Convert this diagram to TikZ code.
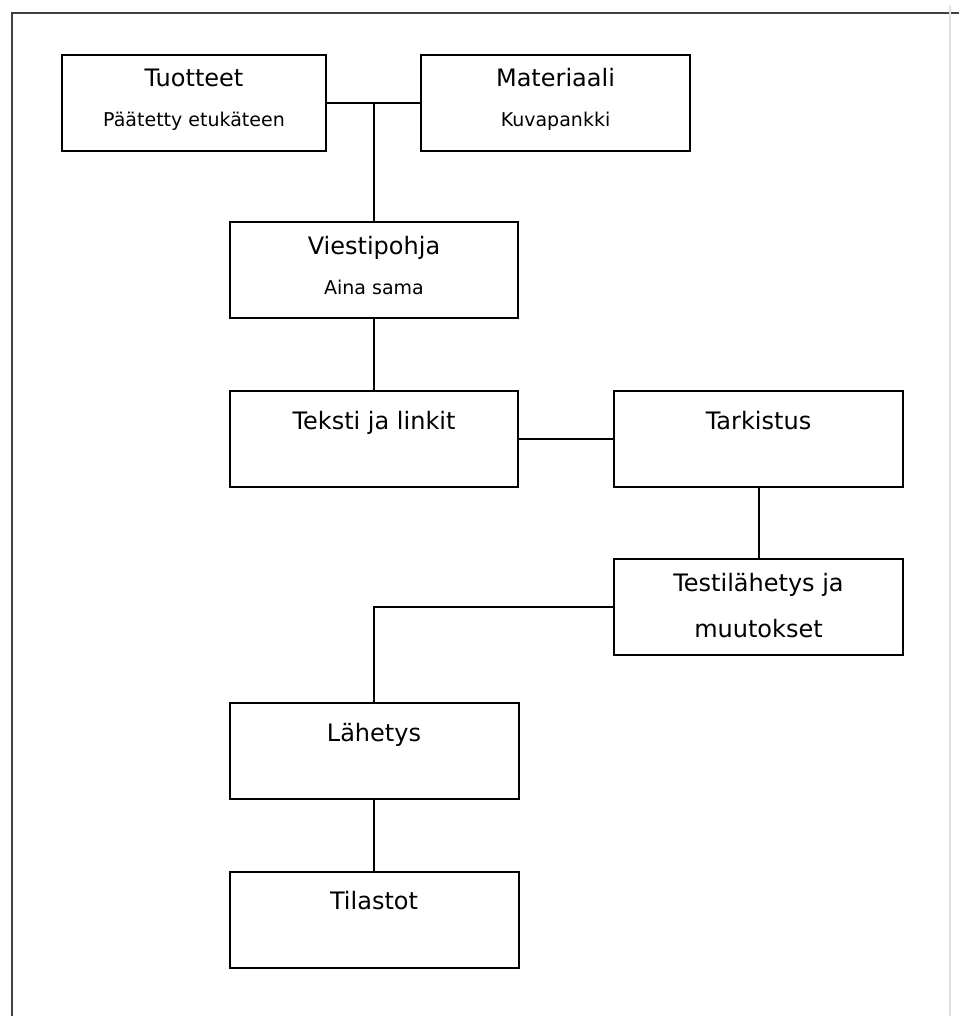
\documentclass[tikz,border=0pt]{standalone}
\usepackage{fontspec}
\setmainfont{DejaVu Sans}
\usepackage{tikz}
\usetikzlibrary{positioning}
\definecolor{frameColor}{RGB}{64,64,64}
\definecolor{edgeColor}{RGB}{225,225,225}
\tikzstyle{chart} = [x = .5pt, y = -.5pt]
\tikzstyle{boxStyle} = [draw=black, fill=white, line width=1pt, minimum height=48pt, inner sep=0pt]
\tikzstyle{titleText} = [font=\fontsize{12}{14}\selectfont, anchor=base, inner sep=0pt]
\tikzstyle{subText} = [font=\fontsize{9.5}{11}\selectfont, anchor=base, inner sep=0pt]
\tikzstyle{linkLine} = [draw=black, line width=1pt]
\tikzstyle{frameLine} = [draw=frameColor, line width=1.3pt]
\newcommand{\singleBox}[5]{
  \node [boxStyle, minimum width=#4*.5pt] (#1) at (#2,#3) {};
  \node [titleText] (#1Title) at ([yshift=-19.5pt]#1.north) {#5};
}
\newcommand{\doubleBox}[6]{
  \node [boxStyle, minimum width=#4*.5pt] (#1) at (#2,#3) {};
  \node [titleText] (#1Title) at ([yshift=-16.5pt]#1.north) {#5};
  \node [subText] (#1Sub) at ([yshift=-36.5pt]#1.north) {#6};
}

\begin{document}
\begin{tikzpicture}[chart]
  \useasboundingbox (0,0) rectangle (959,1016);
  % frame
  \draw [frameLine] (12,1016) -- (12,13) -- (959,13);
  \draw [draw=edgeColor, line width=.8pt] (950,5) -- (950,1016);

  \doubleBox{tuotteet}{194}{103}{264}{Tuotteet}{Päätetty etukäteen}
  \doubleBox{materiaali}{555.5}{103}{269}{Materiaali}{Kuvapankki}
  \doubleBox{viestipohja}{374}{270}{288}{Viestipohja}{Aina sama}
  \singleBox{teksti}{374}{439}{288}{Teksti ja linkit}
  \singleBox{tarkistus}{758.5}{439}{289}{Tarkistus}
  \node [boxStyle, minimum width=289*.5pt] (testi) at (758.5,607) {};
  \node [titleText] (testiTitle) at ([yshift=-16.5pt]testi.north) {Testilähetys ja};
  \node [titleText] (testiSub) at ([yshift=-39.5pt]testi.north) {muutokset};
  \singleBox{lahetys}{374}{751}{289}{Lähetys}
  \singleBox{tilastot}{374}{919.5}{289}{Tilastot}

  % connectors
  \coordinate (join) at (viestipohja.north |- tuotteet.east);
  \draw [linkLine] (tuotteet.east) -- (materiaali.west);
  \draw [linkLine] (join) -- (viestipohja.north);
  \draw [linkLine] (viestipohja.south) -- (teksti.north);
  \draw [linkLine] (teksti.east) -- (tarkistus.west);
  \draw [linkLine] (tarkistus.south) -- (testi.north);
  \draw [linkLine] (testi.west) -| (lahetys.north);
  \draw [linkLine] (lahetys.south) -- (tilastot.north);
\end{tikzpicture}
\end{document}
